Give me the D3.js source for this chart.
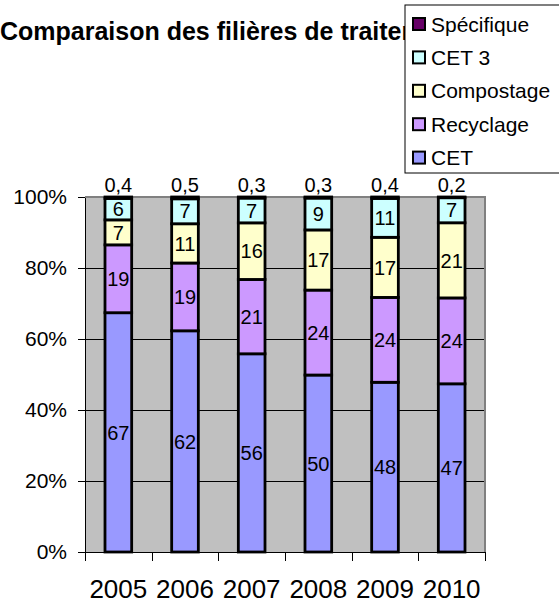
<!DOCTYPE html>
<html>
<head>
<meta charset="utf-8">
<script src="https://cdn.jsdelivr.net/npm/d3@7"></script>
<style>
    body { margin: 0; background: #fff; }
    svg { display: block; font-family: "Liberation Sans", Arial, sans-serif; }
    .grid line { stroke: #000; stroke-width: 1; }
    .axis path, .axis line { stroke: #000; stroke-width: 1; shape-rendering: crispEdges; }
</style>
</head>
<body>
<svg id="chart" width="559" height="604"></svg>
<script>
var years = ['2005', '2006', '2007', '2008', '2009', '2010'];
var seriesNames = ['CET', 'Recyclage', 'Compostage', 'CET 3', 'Spécifique'];
var cet = [67, 62, 56, 50, 48, 47];
var recyclage = [19, 19, 21, 24, 24, 24];
var compostage = [7, 11, 16, 17, 17, 21];
var cet3 = [6, 7, 7, 9, 11, 7];
var specifique = [0.4, 0.5, 0.3, 0.3, 0.4, 0.2];
var yTicks = [0, 0.2, 0.4, 0.6, 0.8, 1];

var seriesColors = ['#9999ff', '#cc99ff', '#ffffcc', '#ccffff', '#660066'];

var svg = d3.select('#chart');
var margin = {top: 197, right: 74, bottom: 52, left: 85},
    width = 559 - margin.left - margin.right,
    height = 604 - margin.top - margin.bottom;

// build one row per year for d3.stack
var table = years.map(function(y, i) {
    return {year: y, 'CET': cet[i], 'Recyclage': recyclage[i], 'Compostage': compostage[i],
        'CET 3': cet3[i], 'Spécifique': specifique[i]};
});

var stacked = d3.stack()
    .keys(seriesNames)
    .offset(d3.stackOffsetExpand)(table);

var xScale = d3.scaleBand()
    .domain(years)
    .range([0, width])
    .paddingInner(0.6)
    .paddingOuter(0.3);
var yScale = d3.scaleLinear()
    .domain([0, 1])
    .range([height, 0]);
var colorScale = d3.scaleOrdinal()
    .domain(seriesNames)
    .range(seriesColors);

var frLocale = d3.formatLocale({decimal: ',', thousands: ' ', grouping: [3], currency: ['', ' €']});
var fmt = frLocale.format('~g');

// Title (its end is hidden behind the legend, like the original)
svg.append('text')
    .attr('x', 0)
    .attr('y', 40)
    .style('font-size', '25px')
    .style('font-weight', 'bold')
    .text('Comparaison des filières de traitement');

var g = svg.append('g')
    .attr('transform', 'translate(' + margin.left + ',' + margin.top + ')');

// plot area
g.append('rect')
    .attr('width', width)
    .attr('height', height)
    .attr('fill', '#c0c0c0');

g.append('g')
    .attr('class', 'grid')
    .selectAll('line')
    .data(yTicks.slice(1, -1))
    .enter().append('line')
    .attr('x1', 0)
    .attr('x2', width)
    .attr('y1', function(d) { return Math.round(yScale(d)) + 0.5; })
    .attr('y2', function(d) { return Math.round(yScale(d)) + 0.5; });

// top and right border of the plot area
g.append('path')
    .attr('d', 'M0,' + yScale(1) + 'H' + width + 'V' + height)
    .attr('fill', 'none')
    .attr('stroke', '#808080')
    .attr('stroke-width', 2);

// bars
var layers = g.selectAll('.layer')
    .data(stacked)
    .enter().append('g')
    .attr('class', 'layer')
    .attr('fill', function(d) { return colorScale(d.key); });

layers.selectAll('rect')
    .data(function(d) { return d; })
    .enter().append('rect')
    .attr('x', function(d) { return xScale(d.data.year); })
    .attr('width', xScale.bandwidth())
    .attr('y', function(d) { return yScale(d[1]); })
    .attr('height', function(d) { return yScale(d[0]) - yScale(d[1]); })
    .attr('stroke', '#000')
    .attr('stroke-width', 2.8);

// data labels: centred in the segment, the tiny "Spécifique" one sits above the bar
layers.selectAll('text')
    .data(function(d) {
        return d.map(function(p) { return {key: d.key, p: p}; });
    })
    .enter().append('text')
    .attr('x', function(d) { return xScale(d.p.data.year) + xScale.bandwidth() / 2; })
    .attr('y', function(d) {
        if (d.key == 'Spécifique') return yScale(d.p[1]) - 12;
        return (yScale(d.p[0]) + yScale(d.p[1])) / 2;
    })
    .attr('dy', '0.36em')
    .attr('text-anchor', 'middle')
    .attr('fill', '#000')
    .style('font-size', '20px')
    .text(function(d) { return fmt(d.p.data[d.key]); });

// y axis
var yAxis = d3.axisLeft(yScale)
    .tickValues(yTicks)
    .tickFormat(d3.format('.0%'))
    .tickSize(7)
    .tickSizeOuter(0)
    .tickPadding(11);
g.append('g')
    .attr('class', 'axis')
    .call(yAxis)
    .selectAll('text')
    .style('font-size', '21px')
    .style('font-family', 'inherit')
    .attr('fill', '#000');

// x axis: labels at the centres, ticks at the category boundaries
var xAxis = d3.axisBottom(xScale)
    .tickSize(0)
    .tickPadding(28);
var xAxisGroup = g.append('g')
    .attr('class', 'axis')
    .attr('transform', 'translate(0,' + height + ')')
    .call(xAxis);
xAxisGroup.selectAll('text')
    .style('font-size', '26px')
    .style('font-family', 'inherit')
    .attr('fill', '#000');
var bounds = years.map(function(y) { return xScale(y) - xScale.step() * 0.3; }).concat([width]);
xAxisGroup.selectAll('.bound')
    .data(bounds)
    .enter().append('line')
    .attr('class', 'bound')
    .attr('x1', function(d) { return Math.round(d) + 0.5; })
    .attr('x2', function(d) { return Math.round(d) + 0.5; })
    .attr('y1', 0)
    .attr('y2', 9);

// legend (drawn last, covers the end of the title)
var legend = svg.append('g')
    .attr('transform', 'translate(405,5)');
legend.append('rect')
    .attr('width', 170)
    .attr('height', 168)
    .attr('fill', '#fff')
    .attr('stroke', '#000')
    .attr('stroke-width', 1);

var legendItems = legend.selectAll('.item')
    .data(seriesNames.slice().reverse())
    .enter().append('g')
    .attr('class', 'item')
    .attr('transform', function(d, i) { return 'translate(0,' + (19 + i * 33.4) + ')'; });
legendItems.append('rect')
    .attr('x', 8)
    .attr('y', -6)
    .attr('width', 12)
    .attr('height', 12)
    .attr('fill', function(d) { return colorScale(d); })
    .attr('stroke', '#000')
    .attr('stroke-width', 2);
legendItems.append('text')
    .attr('x', 26)
    .attr('dy', '0.36em')
    .style('font-size', '21px')
    .text(function(d) { return d; });
</script>
</body>
</html>
